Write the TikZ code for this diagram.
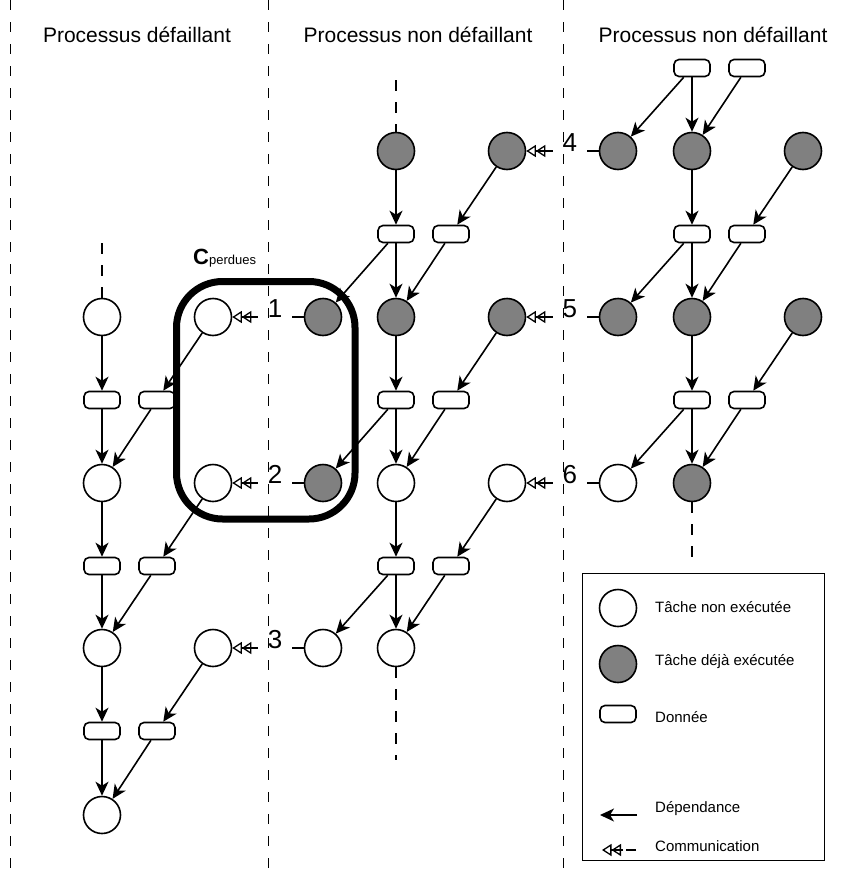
\documentclass[tikz,border=0pt]{standalone}
\usepackage{fontspec}
\setmainfont{Liberation Sans}
\usetikzlibrary{arrows.meta}
\definecolor{taskgray}{RGB}{128,128,128}
\begin{document}
\begin{tikzpicture}[x=1pt,y=-1pt,
  task/.style={circle, draw, line width=1.6pt, minimum size=37pt, inner sep=0pt},
  todo/.style={task, fill=white},
  done/.style={task, fill=taskgray},
  datum/.style={draw, rounded corners=5pt, line width=1.6pt, minimum width=36pt, minimum height=17pt, inner sep=0pt, fill=white},
  dep/.style={line width=1.6pt, -{Stealth[length=14pt,width=13pt,inset=4pt]}},
  comm/.style={line width=1.3pt, -{Triangle[open,length=9.5pt,width=12pt]Triangle[open,length=9.5pt,width=12pt]}},
  commtip/.style={line width=1.3pt, -{Triangle[open,length=9.5pt,width=12pt]Triangle[open,length=9.5pt,width=12pt]}},
  num/.style={pos=0.4, anchor=base, fill=white, inner xsep=10pt, inner ysep=1.5pt, font=\fontsize{26}{26}\selectfont},
  divider/.style={line width=1pt, dash pattern=on 10pt off 12pt},
  stub/.style={line width=1.6pt, dash pattern=on 11pt off 11pt},
  proctitle/.style={font=\fontsize{21}{24}\selectfont},
  legtext/.style={anchor=west, inner sep=0pt, font=\fontsize{15}{18}\selectfont}
]
\useasboundingbox (0,0) rectangle (850,870);

% titles
\node[proctitle] (t1) at (137,35) {Processus défaillant};
\node[proctitle] (t2) at (418,35) {Processus non défaillant};
\node[proctitle] (t3) at (713,35) {Processus non défaillant};

% ---------------- column 1 (failed process)
\foreach \i/\y in {0/317,1/483,2/648,3/815} \node[todo] (a\i) at (102,\y) {};
\foreach \i/\y in {0/317,1/483,2/648} \node[todo] (ar\i) at (213,\y) {};
\foreach \i/\y in {0/400,1/566,2/731} {
  \node[datum] (ad\i) at (102,\y) {};
  \node[datum] (ae\i) at (157,\y) {};
}
\foreach \i/\j in {0/1,1/2,2/3} {
  \draw[dep] (a\i) -- (ad\i);
  \draw[dep] (ad\i) -- (a\j);
  \draw[dep] (ar\i) -- (ae\i);
  \draw[dep] (ae\i) -- (a\j);
}
\coordinate (s1) at (102,243);
\draw[stub] (s1) -- (a0);

% ---------------- column 2
\node[done] (b0) at (396,151) {};
\node[done] (b1) at (396,317) {};
\node[todo] (b2) at (396,483) {};
\node[todo] (b3) at (396,648) {};
\node[done] (bl1) at (323,317) {};
\node[done] (bl2) at (323,483) {};
\node[todo] (bl3) at (323,648) {};
\node[done] (br0) at (507,151) {};
\node[done] (br1) at (507,317) {};
\node[todo] (br2) at (507,483) {};
\foreach \i/\y in {0/234,1/400,2/566} {
  \node[datum] (bd\i) at (396,\y) {};
  \node[datum] (be\i) at (451,\y) {};
}
\foreach \i/\j in {0/1,1/2,2/3} {
  \draw[dep] (b\i) -- (bd\i);
  \draw[dep] (bd\i) -- (b\j);
  \draw[dep] (bd\i) -- (bl\j);
  \draw[dep] (br\i) -- (be\i);
  \draw[dep] (be\i) -- (b\j);
}
\coordinate (s2) at (396,80);
\coordinate (s3) at (396,760);
\draw[stub] (s2) -- (b0);
\draw[stub] (b3) -- (s3);

% ---------------- column 3
\node[done] (c0) at (692,151) {};
\node[done] (c1) at (692,317) {};
\node[done] (c2) at (692,483) {};
\node[done] (cl0) at (618,151) {};
\node[done] (cl1) at (618,317) {};
\node[todo] (cl2) at (618,483) {};
\node[done] (cr0) at (803,151) {};
\node[done] (cr1) at (803,317) {};
\node[datum] (ct) at (692,68) {};
\node[datum] (cu) at (747,68) {};
\draw[dep] (ct) -- (cl0);
\draw[dep] (ct) -- (c0);
\draw[dep] (cu) -- (c0);
\foreach \i/\y in {0/234,1/400} {
  \node[datum] (cd\i) at (692,\y) {};
  \node[datum] (ce\i) at (747,\y) {};
}
\foreach \i/\j in {0/1,1/2} {
  \draw[dep] (c\i) -- (cd\i);
  \draw[dep] (cd\i) -- (c\j);
  \draw[dep] (cd\i) -- (cl\j);
  \draw[dep] (cr\i) -- (ce\i);
  \draw[dep] (ce\i) -- (c\j);
}
\coordinate (s4) at (692,557);
\draw[stub] (c2) -- (s4);

% ---------------- communications
\draw[comm] (bl1) -- node[num]{1} (ar0);
\draw[comm] (bl2) -- node[num]{2} (ar1);
\draw[comm] (bl3) -- node[num]{3} (ar2);
\draw[comm] (cl0) -- node[num]{4} (br0);
\draw[comm] (cl1) -- node[num]{5} (br1);
\draw[comm] (cl2) -- node[num]{6} (br2);

% ---------------- lost checkpoint region
\node[draw, line width=7pt, rounded corners=46pt, minimum width=178.5pt, minimum height=237.5pt, inner sep=0pt] (lost) at (265.75,400.25) {};
\node[anchor=base west, inner sep=0pt] (clab) at (193,264) {{\fontsize{22}{22}\selectfont\bfseries C}{\fontsize{13}{13}\selectfont perdues}};

% ---------------- dividers
\foreach \x/\n in {10/d1,268/d2,563/d3} {
  \coordinate (\n top) at (\x,0);
  \coordinate (\n bot) at (\x,870);
  \draw[divider] (\n top) -- (\n bot);
}

% ---------------- legend
\node[draw, line width=1pt, minimum width=242pt, minimum height=287pt, inner sep=0pt] (legend) at (703,716.5) {};
\node[todo] (l1) at (618,608) {};
\node[done] (l2) at (618,664) {};
\node[datum] (l3) at (618,714) {};
\node[legtext] (lt1) at (655,607) {Tâche non exécutée};
\node[legtext] (lt2) at (655,662) {Tâche déjà exécutée};
\node[legtext] (lt3) at (655,717) {Donnée};
\coordinate (ld1) at (637,815);
\coordinate (ld2) at (600,815);
\draw[dep] (ld1) -- (ld2);
\node[legtext] (lt4) at (655,809) {Dépendance};
\coordinate (lc1) at (636,850);
\coordinate (lc2) at (626,850);
\coordinate (lc3) at (623,850);
\coordinate (lc4) at (602,850);
\draw[line width=1.3pt] (lc1) -- (lc2);
\draw[commtip] (lc3) -- (lc4);
\node[legtext] (lt5) at (655,846) {Communication};
\end{tikzpicture}
\end{document}
